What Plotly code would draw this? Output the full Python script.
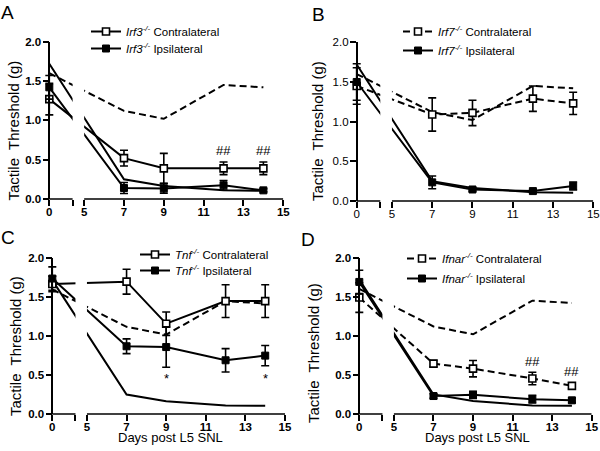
import plotly.graph_objects as go

# ---------------- data ----------------
DAYS = [0, 7, 9, 12, 14]
X_TICK_DAYS = [0, 5, 7, 9, 11, 13, 15]
X_TICK_TEXT = ["0", "5", "7", "9", "11", "13", "15"]
Y_TICKS = [0.0, 0.5, 1.0, 1.5, 2.0]

# wild-type reference lines (no markers) drawn in every panel
WT_CONTRA = [1.60, 1.12, 1.02, 1.45, 1.42]
WT_IPSI = [1.72, 0.25, 0.165, 0.11, 0.105]

IRF3_CONTRA = [1.27, 0.52, 0.39, 0.39, 0.39]
IRF3_CONTRA_ERR = [0.20, 0.10, 0.19, 0.08, 0.08]
IRF3_IPSI = [1.42, 0.14, 0.135, 0.175, 0.11]
IRF3_IPSI_ERR = [0.15, 0.07, 0.06, 0.06, 0.02]

IRF7_CONTRA = [1.45, 1.09, 1.11, 1.29, 1.23]
IRF7_CONTRA_ERR = [0.23, 0.21, 0.16, 0.16, 0.14]
IRF7_IPSI = [1.50, 0.235, 0.145, 0.125, 0.19]
IRF7_IPSI_ERR = [0.23, 0.08, 0.02, 0.02, 0.05]

TNF_CONTRA = [1.67, 1.70, 1.16, 1.45, 1.45]
TNF_CONTRA_ERR = [0.10, 0.16, 0.15, 0.21, 0.21]
TNF_IPSI = [1.74, 0.87, 0.86, 0.69, 0.75]
TNF_IPSI_ERR = [0.15, 0.095, 0.26, 0.15, 0.13]

IFNAR_CONTRA = [1.49, 0.645, 0.58, 0.455, 0.36]
IFNAR_CONTRA_ERR = [0.19, 0.04, 0.105, 0.08, 0.04]
IFNAR_IPSI = [1.69, 0.23, 0.245, 0.19, 0.175]
IFNAR_IPSI_ERR = [0.15, 0.03, 0.045, 0.05, 0.03]

# significance marks: (day, value, text)
SIG_A = [(12, 0.62, "##"), (14, 0.62, "##")]
SIG_C = [(9, 0.46, "*"), (14, 0.45, "*")]
SIG_D = [(12, 0.67, "##"), (14, 0.55, "##")]

# ---------------- broken axis mapping ----------------
SEG2_START = 1.75   # axis position of day 5
SEG1_END = 1.17     # axis position where first segment stops
XMIN = -0.5


def pos(d):
    return d * SEG2_START / 5 if d < 5 else SEG2_START + (d - 5)


W, H = 600, 451
FONT = "Liberation Sans, Arial, Helvetica, sans-serif"

panels = [
    dict(letter="A", gene="Irf3", contra=IRF3_CONTRA, ce=IRF3_CONTRA_ERR, ipsi=IRF3_IPSI, ie=IRF3_IPSI_ERR,
         cdash="solid", sig=SIG_A, px=(49.3, 283.3, 41.7, 199), bold=True, xtitle=False,
         leg=(133, 31, 48), ytitle=(12.5, 131), lab=(-1, 0)),
    dict(letter="B", gene="Irf7", contra=IRF7_CONTRA, ce=IRF7_CONTRA_ERR, ipsi=IRF7_IPSI, ie=IRF7_IPSI_ERR,
         cdash="7px,4px", sig=[], px=(356.7, 593.3, 42.3, 201), bold=False, xtitle=False,
         leg=(445, 31, 50), ytitle=(317, 131), lab=(310, 2)),
    dict(letter="C", gene="Tnf", contra=TNF_CONTRA, ce=TNF_CONTRA_ERR, ipsi=TNF_IPSI, ie=TNF_IPSI_ERR,
         cdash="solid", sig=SIG_C, px=(52.3, 285, 258.3, 414), bold=True, xtitle=True,
         leg=(182, 254, 270), ytitle=(15, 346), lab=(-1, 225)),
    dict(letter="D", gene="Ifnar", contra=IFNAR_CONTRA, ce=IFNAR_CONTRA_ERR, ipsi=IFNAR_IPSI, ie=IFNAR_IPSI_ERR,
         cdash="7px,4px", sig=SIG_D, px=(359.3, 591.7, 257.7, 414), bold=True, xtitle=True,
         leg=(449, 258, 278), ytitle=(313, 353), lab=(299, 227)),
]

fig = go.Figure()
shapes = []
annotations = []
xs = [pos(d) for d in DAYS]
XMAX = pos(15)
LEG_FONT = dict(family=FONT, size=11.5, color="black")


def legend_box(text_x, row_y):
    return dict(x=(text_x - 47) / W, y=1 - (row_y - 14) / H, xanchor="left", yanchor="top",
                bgcolor="rgba(0,0,0,0)", font=LEG_FONT, itemwidth=30)


for i, p in enumerate(panels):
    n = "" if i == 0 else str(i + 1)
    xa, ya = "x" + n, "y" + n
    leg_c = "legend" if i == 0 else f"legend{2 * i + 1}"
    leg_i = f"legend{2 * i + 2}"
    x0px, x15px, ytop, ybot = p["px"]
    ppu = (x15px - x0px) / XMAX
    dom_l = (x0px + XMIN * ppu) / W
    dom_r = x15px / W

    # wild-type reference lines
    fig.add_trace(go.Scatter(x=xs, y=WT_CONTRA, mode="lines", xaxis=xa, yaxis=ya,
                             line=dict(color="black", width=2, dash="7px,4px"), showlegend=False,
                             hoverinfo="skip"))
    fig.add_trace(go.Scatter(x=xs, y=WT_IPSI, mode="lines", xaxis=xa, yaxis=ya,
                             line=dict(color="black", width=2), showlegend=False, hoverinfo="skip"))
    # knockout contralateral (open squares)
    fig.add_trace(go.Scatter(
        x=xs, y=p["contra"], mode="lines+markers", xaxis=xa, yaxis=ya, legend=leg_c,
        name=f"<i>{p['gene']}<sup>-/-</sup></i> Contralateral",
        line=dict(color="black", width=2, dash=p["cdash"]),
        marker=dict(symbol="square", size=7, color="white", line=dict(color="black", width=1.6)),
        error_y=dict(type="data", array=p["ce"], color="black", thickness=1.6, width=4),
        cliponaxis=False))
    # knockout ipsilateral (filled squares)
    fig.add_trace(go.Scatter(
        x=xs, y=p["ipsi"], mode="lines+markers", xaxis=xa, yaxis=ya, legend=leg_i,
        name=f"<i>{p['gene']}<sup>-/-</sup></i> Ipsilateral",
        line=dict(color="black", width=2),
        marker=dict(symbol="square", size=7, color="black", line=dict(color="black", width=1)),
        error_y=dict(type="data", array=p["ie"], color="black", thickness=1.6, width=4),
        cliponaxis=False))

    tickfont = dict(family=FONT, size=11.5, color="black", weight="bold" if p["bold"] else "normal")
    fig.update_layout(**{
        "xaxis" + n: dict(domain=[dom_l, dom_r], range=[XMIN, XMAX], anchor=ya, automargin=False,
                          showgrid=False, zeroline=False, showline=False,
                          tickmode="array",
                          tickvals=[pos(0), SEG1_END] + [pos(d) for d in X_TICK_DAYS[1:]],
                          ticktext=[X_TICK_TEXT[0], ""] + X_TICK_TEXT[1:],
                          ticks="outside", ticklen=6, tickwidth=1.6, tickcolor="black",
                          ticklabelstandoff=-4, tickfont=tickfont),
        "yaxis" + n: dict(domain=[1 - ybot / H, 1 - ytop / H], range=[0, 2], anchor="free",
                          position=x0px / W, showgrid=False, zeroline=False, automargin=False,
                          showline=True, linecolor="black", linewidth=1.6,
                          tickmode="array", tickvals=Y_TICKS, tickformat=".1f",
                          ticks="outside", ticklen=6, tickwidth=1.6, tickcolor="black",
                          ticklabelstandoff=-1, tickfont=tickfont),
        leg_c: legend_box(p["leg"][0], p["leg"][1]),
        leg_i: legend_box(p["leg"][0], p["leg"][2]),
    })

    # white gap for the axis break
    shapes.append(dict(type="rect", xref=xa, yref=ya + " domain", x0=SEG1_END, x1=SEG2_START,
                       y0=0, y1=1, fillcolor="white", line=dict(width=0), layer="above"))
    # broken x-axis line
    for a, b in [(pos(0), SEG1_END), (SEG2_START, XMAX)]:
        shapes.append(dict(type="line", xref=xa, yref=ya + " domain", x0=a, x1=b, y0=0, y1=0,
                           line=dict(color="black", width=1.6), layer="above"))

    # significance marks
    for d, v, t in p["sig"]:
        annotations.append(dict(x=pos(d), y=v, xref=xa, yref=ya, text=t, showarrow=False,
                                xanchor="center", yanchor="middle",
                                font=dict(family=FONT, size=13, color="black")))
    # axis titles
    annotations.append(dict(x=p["ytitle"][0] / W, y=1 - p["ytitle"][1] / H, xref="paper", yref="paper",
                            xanchor="center", yanchor="middle",
                            text="Tactile\u00a0 Threshold (g)", textangle=-90, showarrow=False,
                            font=dict(family=FONT, size=15, color="black")))
    if p["xtitle"]:
        cx = (x0px + x15px) / 2 + 2
        annotations.append(dict(x=cx / W, y=1 - 437 / H, xref="paper", yref="paper",
                                xanchor="center", yanchor="middle",
                                text="Days post L5 SNL", showarrow=False,
                                font=dict(family=FONT, size=13, color="black")))
    # panel letter
    annotations.append(dict(x=p["lab"][0] / W, y=1 - p["lab"][1] / H, xref="paper", yref="paper",
                            xanchor="left", yanchor="top", text=p["letter"], showarrow=False,
                            font=dict(family=FONT, size=19, color="black")))

fig.update_layout(width=W, height=H, margin=dict(l=0, r=0, t=0, b=0, pad=0, autoexpand=False),
                  paper_bgcolor="white", plot_bgcolor="white",
                  shapes=shapes, annotations=annotations,
                  font=dict(family=FONT, color="black"))

fig.write_html("out.html", config={"displayModeBar": False},
               post_script="document.body.style.margin='0';")
